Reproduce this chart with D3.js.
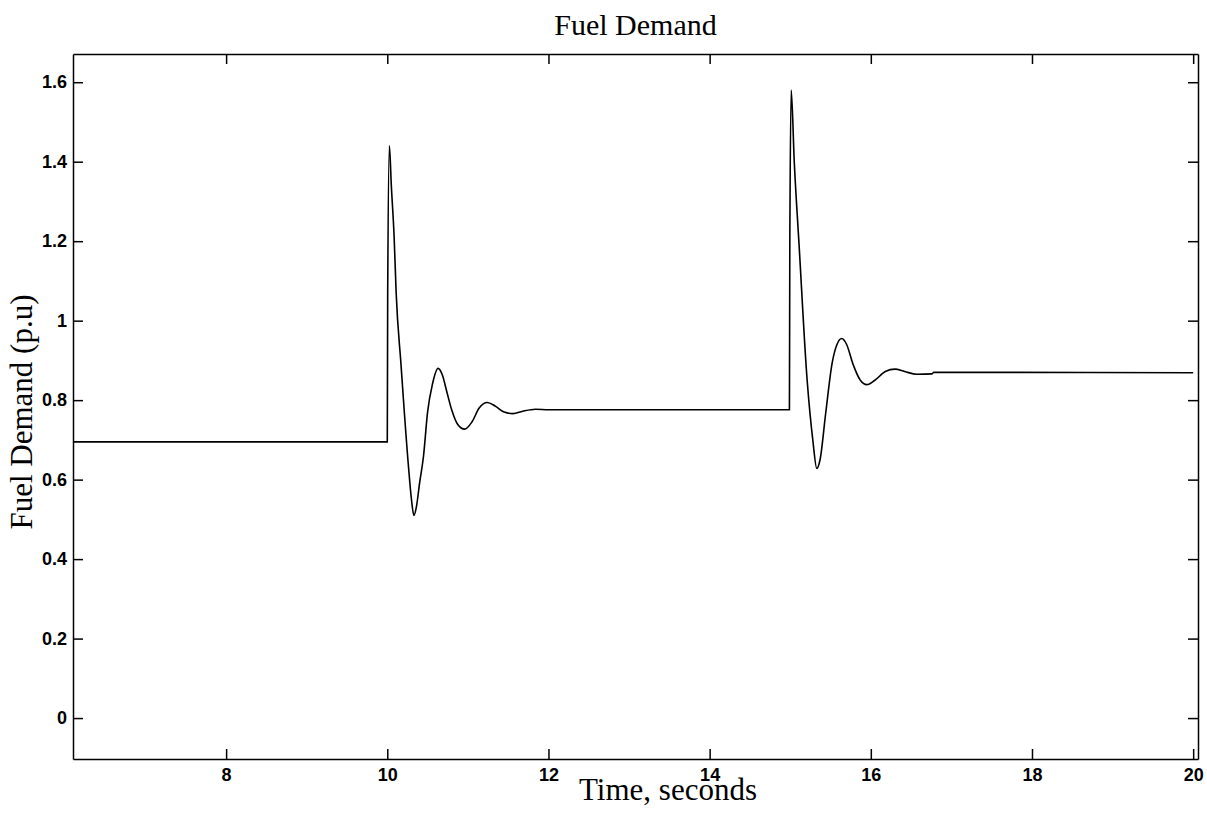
<!DOCTYPE html>
<html>
<head>
<meta charset="utf-8">
<script src="https://cdn.jsdelivr.net/npm/d3@7"></script>
<style>
  body { margin: 0; background: #fff; }
  .tick text { font-family: "Liberation Sans", Arial, sans-serif; font-weight: bold; font-size: 18px; fill: #000; }
  .axis path, .axis line { stroke: #000; stroke-width: 1.5; }
  .label { font-family: "Liberation Serif", "Times New Roman", serif; font-size: 31px; fill: #000; }
</style>
</head>
<body>
<div id="chart"></div>
<script>
// values
const timeSec = [6.1, 10.0, 10.005, 10.026, 10.05, 10.085, 10.11, 10.17, 10.26, 10.30, 10.33, 10.36, 10.40, 10.45, 10.50,
  10.56, 10.63, 10.68, 10.74, 10.80, 10.87, 10.96, 11.05, 11.14, 11.24, 11.34, 11.45, 11.56, 11.68, 11.84, 12.0,
  14.99, 14.995, 15.012, 15.05, 15.11, 15.21, 15.28, 15.33, 15.37, 15.44, 15.52, 15.58, 15.64, 15.70, 15.78, 15.87,
  15.95, 16.05, 16.18, 16.30, 16.42, 16.57, 16.76, 16.78, 20.0];
const fuelDemand = [0.695, 0.695, 1.07, 1.44, 1.34, 1.21, 1.07, 0.89, 0.64, 0.55, 0.51, 0.53, 0.59, 0.66, 0.77,
  0.84, 0.88, 0.865, 0.82, 0.775, 0.74, 0.727, 0.745, 0.78, 0.794, 0.785, 0.77, 0.766, 0.772, 0.777, 0.776,
  0.776, 1.2, 1.58, 1.40, 1.19, 0.85, 0.70, 0.628, 0.65, 0.767, 0.893, 0.94, 0.955, 0.94, 0.89, 0.85,
  0.839, 0.85, 0.872, 0.878, 0.872, 0.865, 0.866, 0.870, 0.869];
const xTicks = [8, 10, 12, 14, 16, 18, 20];
const yTicks = [0, 0.2, 0.4, 0.6, 0.8, 1, 1.2, 1.4, 1.6];
const yTickLabels = ["0", "0.2", "0.4", "0.6", "0.8", "1", "1.2", "1.4", "1.6"];

const svg = d3.select("#chart").append("svg")
    .attr("width", 1207)
    .attr("height", 813);

const margin = {top: 54, right: 9, bottom: 54, left: 73},
      width = +svg.attr("width") - margin.left - margin.right,
      height = +svg.attr("height") - margin.top - margin.bottom;

const x = d3.scaleLinear().domain([6.1, 20.06]).range([0, width]),
      y = d3.scaleLinear().domain([-0.103, 1.671]).range([height, 0]);

const g = svg.append("g")
    .attr("transform", `translate(${margin.left},${margin.top})`);

// bottom / left with labels, ticks pointing inwards
g.append("g")
    .attr("class", "axis")
    .attr("transform", `translate(0,${height})`)
    .call(d3.axisBottom(x).tickValues(xTicks).tickSizeInner(-10).tickSizeOuter(0).tickPadding(9));

g.append("g")
    .attr("class", "axis")
    .call(d3.axisLeft(y).tickValues(yTicks).tickFormat((d, i) => yTickLabels[i])
        .tickSizeInner(-10).tickSizeOuter(0).tickPadding(6));

// top / right box edges
g.append("g")
    .attr("class", "axis")
    .call(d3.axisTop(x).tickValues(xTicks).tickSizeInner(-10).tickSizeOuter(0).tickFormat(""));

g.append("g")
    .attr("class", "axis")
    .attr("transform", `translate(${width},0)`)
    .call(d3.axisRight(y).tickValues(yTicks).tickSizeInner(-10).tickSizeOuter(0).tickFormat(""));

g.append("path")
    .datum(timeSec.map((t, i) => [t, fuelDemand[i]]))
    .attr("fill", "none")
    .attr("stroke", "#000")
    .attr("stroke-width", 1.6)
    .attr("d", d3.line()
        .x(d => x(d[0]))
        .y(d => y(d[1]))
        .curve(d3.curveMonotoneX));

svg.append("text")
    .attr("class", "label")
    .attr("x", margin.left + width / 2)
    .attr("y", 35)
    .attr("text-anchor", "middle")
    .style("font-size", "30px")
    .text("Fuel Demand");

svg.append("text")
    .attr("class", "label")
    .attr("x", 668)
    .attr("y", 800)
    .attr("text-anchor", "middle")
    .text("Time, seconds");

svg.append("text")
    .attr("class", "label")
    .attr("transform", "translate(32,412) rotate(-90)")
    .attr("text-anchor", "middle")
    .text("Fuel Demand (p.u)");
</script>
</body>
</html>
